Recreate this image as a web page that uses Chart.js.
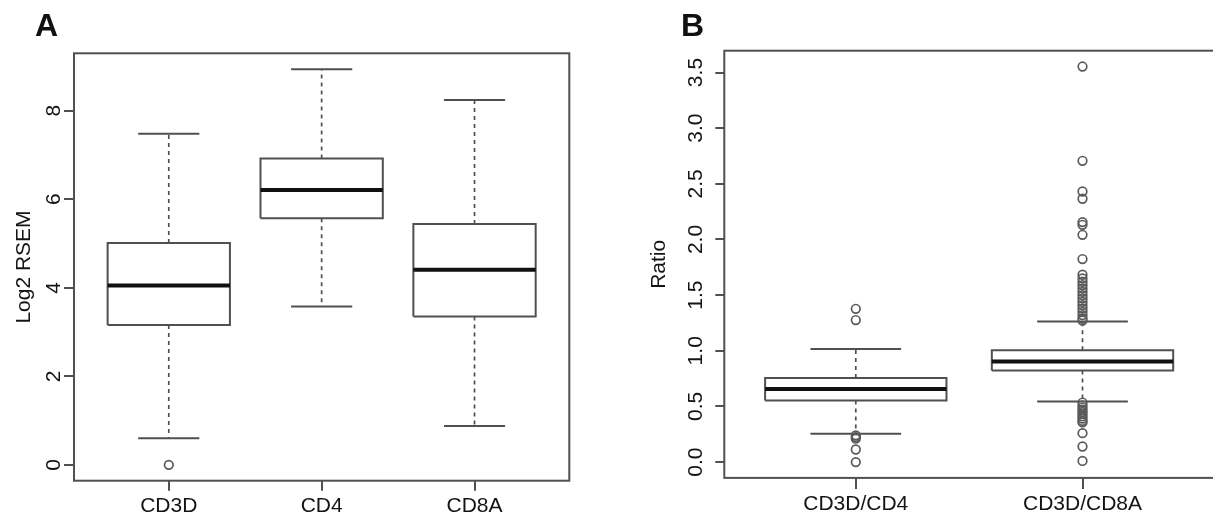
<!DOCTYPE html>
<html>
<head>
<meta charset="utf-8">
<title>Log2 RSEM / Ratio boxplots</title>
<script src="https://cdn.jsdelivr.net/npm/chart.js@4.4.1/dist/chart.umd.min.js"></script>
<style>
  body { margin: 0; background: #fff; }
  #wrap { position: relative; width: 1213px; height: 516px; overflow: hidden; font-family: 'Liberation Sans', Arial, sans-serif; }
  #wrap canvas { position: absolute; top: 0; }
  .tag { position: absolute; top: 9px; font-weight: bold; font-size: 32px; line-height: 32px; color: #111; }
</style>
</head>
<body>
<div id="wrap">
  <canvas id="chartA" width="600" height="516" style="left:0"></canvas>
  <canvas id="chartB" width="600" height="516" style="left:620px"></canvas>
  <div class="tag" style="left:35px">A</div>
  <div class="tag" style="left:681px">B</div>
</div>
<script>
// パネルA: 遺伝子ごとの Log2 RSEM
const genes = ['CD3D', 'CD4', 'CD8A'];
const geneLow = [0.60, 3.58, 0.88];
const geneQ1 = [3.16, 5.57, 3.35];
const geneMedian = [4.05, 6.21, 4.41];
const geneQ3 = [5.01, 6.92, 5.44];
const geneHigh = [7.48, 8.94, 8.24];
const geneOutliers = [[0], [], []];
const geneTicks = [0, 2, 4, 6, 8];

// パネルB: 比率
const ratios = ['CD3D/CD4', 'CD3D/CD8A'];
const ratioLow = [0.254, 0.544];
const ratioQ1 = [0.553, 0.823];
const ratioMedian = [0.656, 0.904];
const ratioQ3 = [0.755, 1.005];
const ratioHigh = [1.015, 1.263];
const ratioOutliers = [
  [1.377, 1.276, 0.24, 0.225, 0.21, 0.113, 0],
  [3.554, 2.707, 2.431, 2.366, 2.156, 2.132, 2.042, 1.824,
   1.683, 1.65, 1.62, 1.59, 1.56, 1.53, 1.50, 1.47, 1.44, 1.41, 1.38, 1.35, 1.32, 1.29, 1.272,
   0.535, 0.51, 0.49, 0.47, 0.45, 0.43, 0.41, 0.39, 0.37, 0.356,
   0.26, 0.14, 0.01]
];
const ratioTicks = [0, 0.5, 1, 1.5, 2, 2.5, 3, 3.5];

const FONT = "'Liberation Sans', Arial, sans-serif";
const FONT_SIZE = 21;
const TEXT_COLOR = '#141414';
const LINE_COLOR = '#505050';
const BOX_HALF = 0.4;

Chart.defaults.font.family = FONT;
Chart.defaults.font.size = FONT_SIZE;
Chart.defaults.color = TEXT_COLOR;

// 枠線と回転した y 目盛りラベル（R の boxplot 風）
const rFrame = {
  id: 'rFrame',
  afterDraw(chart, args, opts) {
    const { ctx, chartArea: a, scales: { y } } = chart;
    ctx.save();
    ctx.strokeStyle = LINE_COLOR;
    ctx.lineWidth = 2;
    ctx.strokeRect(a.left, a.top, a.right - a.left, a.bottom - a.top);
    ctx.fillStyle = TEXT_COLOR;
    ctx.font = FONT_SIZE + 'px ' + FONT;
    ctx.textAlign = 'center';
    ctx.textBaseline = 'alphabetic';
    y.ticks.forEach(t => {
      ctx.save();
      ctx.translate(opts.labelX, y.getPixelForValue(t.value));
      ctx.rotate(-Math.PI / 2);
      ctx.fillText(t.value.toFixed(opts.digits), 0, 0);
      ctx.restore();
    });
    ctx.restore();
  }
};

function lineSet(data, width, color, dash, order) {
  return {
    data: data,
    showLine: true,
    borderColor: color,
    borderWidth: width,
    borderDash: dash,
    borderCapStyle: 'butt',
    borderJoinStyle: 'miter',
    pointRadius: 0,
    spanGaps: false,
    order: order
  };
}

function boxDatasets(low, q1, med, q3, high, outliers) {
  const box = [], mid = [], whisker = [], cap = [], pts = [];
  low.forEach((_, i) => {
    const c = i + 1;
    const gap = { x: c, y: null };
    box.push({ x: c - BOX_HALF, y: q1[i] }, { x: c + BOX_HALF, y: q1[i] },
             { x: c + BOX_HALF, y: q3[i] }, { x: c - BOX_HALF, y: q3[i] },
             { x: c - BOX_HALF, y: q1[i] }, gap);
    mid.push({ x: c - BOX_HALF, y: med[i] }, { x: c + BOX_HALF, y: med[i] }, gap);
    whisker.push({ x: c, y: q3[i] }, { x: c, y: high[i] }, gap,
                 { x: c, y: q1[i] }, { x: c, y: low[i] }, gap);
    cap.push({ x: c - BOX_HALF / 2, y: high[i] }, { x: c + BOX_HALF / 2, y: high[i] }, gap,
             { x: c - BOX_HALF / 2, y: low[i] }, { x: c + BOX_HALF / 2, y: low[i] }, gap);
    outliers[i].forEach(v => pts.push({ x: c, y: v }));
  });
  return [
    {
      data: pts,
      pointStyle: 'circle',
      pointRadius: 4.3,
      borderColor: '#5a5a5a',
      backgroundColor: 'rgba(0,0,0,0)',
      borderWidth: 1.7,
      order: 0
    },
    lineSet(mid, 4, '#111', [], 1),
    lineSet(box, 2, LINE_COLOR, [], 2),
    lineSet(cap, 2, LINE_COLOR, [], 3),
    lineSet(whisker, 1.7, LINE_COLOR, [4, 4], 4)
  ];
}

function createBoxChart(id, p) {
  const n = p.cats.length;
  const all = p.low.concat(p.high, ...p.outliers);
  const lo = Math.min(...all), hi = Math.max(...all);
  const ext = (hi - lo) * 0.04;

  return new Chart(document.getElementById(id), {
    type: 'scatter',
    data: { datasets: boxDatasets(p.low, p.q1, p.med, p.q3, p.high, p.outliers) },
    plugins: [rFrame],
    options: {
      responsive: false,
      animation: false,
      layout: { padding: { left: 0, top: p.top, right: p.right, bottom: 0 } },
      plugins: {
        legend: { display: false },
        tooltip: { enabled: false },
        rFrame: { labelX: p.labelX, digits: p.digits }
      },
      scales: {
        x: {
          type: 'linear',
          min: 0.5 - 0.04 * n,
          max: n + 0.5 + 0.04 * n,
          afterBuildTicks: s => { s.ticks = p.cats.map((_, i) => ({ value: i + 1 })); },
          afterFit: s => { s.height = 516 - p.bottom; },
          border: { display: false },
          grid: { drawOnChartArea: false, drawTicks: true, tickLength: p.xTick, color: LINE_COLOR, lineWidth: 2 },
          ticks: {
            padding: p.xPad,
            maxRotation: 0,
            autoSkip: false,
            color: TEXT_COLOR,
            callback: v => p.cats[Math.round(v) - 1]
          }
        },
        y: {
          min: lo - ext,
          max: hi + ext,
          afterBuildTicks: s => { s.ticks = p.ticks.map(v => ({ value: v })); },
          afterFit: s => { s.width = p.left; },
          border: { display: false },
          grid: { drawOnChartArea: false, drawTicks: true, tickLength: p.yTick, color: LINE_COLOR, lineWidth: 2 },
          ticks: { display: false },
          title: {
            display: true,
            text: p.title,
            color: TEXT_COLOR,
            font: { size: FONT_SIZE },
            padding: { top: p.titlePad, bottom: 0 }
          }
        }
      }
    }
  });
}

createBoxChart('chartA', {
  cats: genes, low: geneLow, q1: geneQ1, med: geneMedian, q3: geneQ3, high: geneHigh,
  outliers: geneOutliers, ticks: geneTicks, digits: 0, title: 'Log2 RSEM',
  left: 74, top: 53.3, right: 30.7, bottom: 480.7,
  labelX: 60, titlePad: 11.5, xTick: 10, xPad: 2.5, yTick: 10
});

createBoxChart('chartB', {
  cats: ratios, low: ratioLow, q1: ratioQ1, med: ratioMedian, q3: ratioQ3, high: ratioHigh,
  outliers: ratioOutliers, ticks: ratioTicks, digits: 1, title: 'Ratio',
  left: 104.3, top: 50.7, right: 2.6, bottom: 477.9,
  labelX: 81.7, titlePad: 26.2, xTick: 11, xPad: 3, yTick: 9
});
</script>
</body>
</html>
